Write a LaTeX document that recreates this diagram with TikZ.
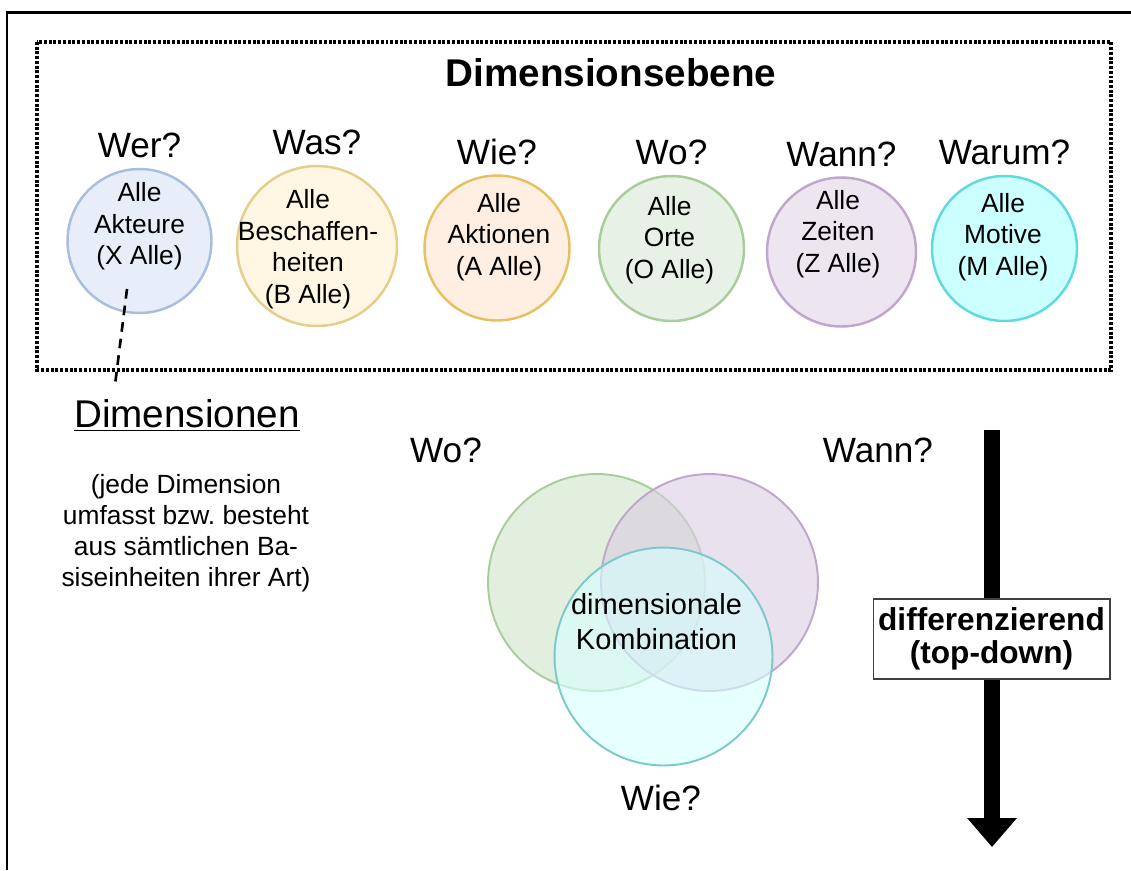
\documentclass[tikz,border=0pt]{standalone}
\usepackage{fontspec}
\setmainfont[Ligatures=NoCommon]{Liberation Sans}
\usetikzlibrary{positioning,arrows.meta}

\definecolor{akteurFill}{HTML}{E8EEF9}
\definecolor{akteurDraw}{HTML}{A8BEDF}
\definecolor{beschFill}{HTML}{FFF6E3}
\definecolor{beschDraw}{HTML}{E3CF8A}
\definecolor{aktionFill}{HTML}{FFEFE3}
\definecolor{aktionDraw}{HTML}{E7C160}
\definecolor{ortFill}{HTML}{E8F1E6}
\definecolor{ortDraw}{HTML}{A9CD9A}
\definecolor{zeitFill}{HTML}{EDE6F0}
\definecolor{zeitDraw}{HTML}{BFA7CA}
\definecolor{motivFill}{HTML}{CCFFFF}
\definecolor{motivDraw}{HTML}{5ED9DF}
\definecolor{vennDraw}{HTML}{7CC8CA}

\begin{document}
\begin{tikzpicture}[x=0.02cm, y=-0.02cm,
    dim/.style={circle, draw, line width=1.4pt, inner sep=0pt},
    dimtext/.style={align=center, font=\fontsize{15}{18}\selectfont},
    frage/.style={font=\fontsize{20}{24}\selectfont},
    venn/.style={circle, draw, line width=1.1pt, inner sep=0pt, minimum size=4.34cm, fill opacity=0.6}]
    \useasboundingbox (0,0) rectangle (1131,870);
    \draw[line width=1.2pt] (7,870) -- (7,12.5) -- (1131,12.5);

    % Dimensionsebene
    \draw[line width=2pt, dash pattern=on 1.7pt off 1.0pt] (37,42) rectangle (1111,370);
    \node[font=\bfseries\fontsize{22}{26}\selectfont] (ebene) at (611,73) {Dimensionsebene};

    \node[dim, draw=akteurDraw, fill=akteurFill, minimum size=2.88cm] (akteure) at (139.5,241) {};
    \node[dimtext] (akteure-t) at (139.5,226.5) {Alle\\Akteure\\(X Alle)};
    \node[frage, above=2pt of akteure] (wer) {Wer?};

    \node[dim, draw=beschDraw, fill=beschFill, minimum size=3.2cm] (besch) at (317,246) {};
    \node[dimtext] (besch-t) at (308,249) {Alle\\Beschaffen-\\heiten\\(B Alle)};
    \node[frage, above=2pt of besch] (was) {Was?};

    \node[dim, draw=aktionDraw, fill=aktionFill, minimum size=2.9cm] (aktionen) at (497,248) {};
    \node[dimtext] (aktionen-t) at (499,237) {Alle\\Aktionen\\(A Alle)};
    \node[frage, above=2pt of aktionen] (wie) {Wie?};

    \node[dim, draw=ortDraw, fill=ortFill, minimum size=2.9cm] (orte) at (671.5,248.5) {};
    \node[dimtext] (orte-t) at (669.5,240) {Alle\\Orte\\(O Alle)};
    \node[frage, above=2pt of orte] (wo) {Wo?};

    \node[dim, draw=zeitDraw, fill=zeitFill, minimum size=2.98cm] (zeiten) at (841.5,252) {};
    \node[dimtext] (zeiten-t) at (838,234) {Alle\\Zeiten\\(Z Alle)};
    \node[frage, above=2pt of zeiten] (wann) {Wann?};

    \node[dim, draw=motivDraw, fill=motivFill, minimum size=2.9cm] (motive) at (1004.5,248.5) {};
    \node[dimtext] (motive-t) at (1003,237) {Alle\\Motive\\(M Alle)};
    \node[frage, above=2pt of motive] (warum) {Warum?};

    % Dimensionen
    \coordinate (dimstart) at (127,289);
    \coordinate (dimend) at (115,385);
    \draw[line width=1.5pt, dash pattern=on 5.5pt off 4pt] (dimstart) -- (dimend);
    \node[font=\fontsize{22}{26}\selectfont] (dimlabel) at (187,415) {\underline{Dimensionen}};
    \node[align=center, font=\fontsize{15}{17.6}\selectfont] (dimerkl) at (186,533) {(jede Dimension\\umfasst bzw.\ besteht\\aus sämtlichen Ba-\\siseinheiten ihrer Art)};

    % Kombination
    \node[venn, draw=ortDraw, fill=ortFill!60!ortDraw] (vort) at (596.5,582.5) {};
    \node[venn, draw=zeitDraw, fill=zeitFill!60!zeitDraw] (vzeit) at (709.5,582.5) {};
    \node[venn, draw=vennDraw, fill=motivFill!80!white, minimum size=4.36cm] (vaktion) at (663.5,656.5) {};
    \node[align=center, font=\fontsize{16.5}{20}\selectfont] (kombi) at (656.5,622) {dimensionale\\Kombination};
    \node[frage] (wo2) at (446,450) {Wo?};
    \node[frage] (wann2) at (878,450) {Wann?};
    \node[frage] (wie2) at (661,798) {Wie?};

    % Richtung
    \coordinate (pfeiloben) at (992,430);
    \coordinate (pfeilspitze) at (992,847);
    \draw[line width=0.32cm, -{Triangle[width=0.96cm, length=0.58cm]}] (pfeiloben) -- (pfeilspitze);
    \node[draw=black!75, fill=white, line width=0.6pt, minimum width=4.74cm, minimum height=1.6cm, inner sep=1pt, align=center, font=\bfseries\fontsize{18}{19}\selectfont] (richtung) at (991.5,639) {differenzierend\\(top-down)};
\end{tikzpicture}
\end{document}
